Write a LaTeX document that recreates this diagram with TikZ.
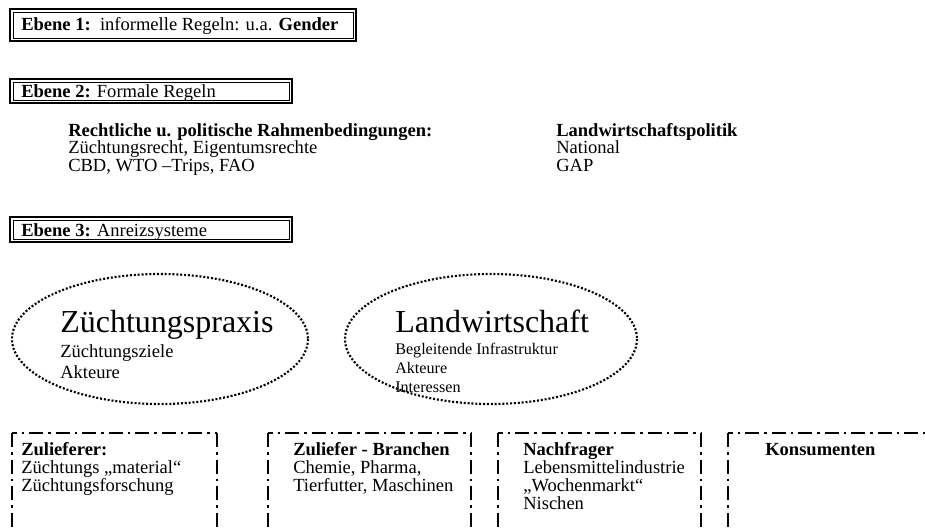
\documentclass[tikz,border=0pt]{standalone}
\usepackage{fontspec}
\setmainfont{Liberation Serif}
\begin{document}
\begin{tikzpicture}[x=0.75pt,y=-0.75pt,
  txt/.style={inner sep=0pt,anchor=base west,font=\fontsize{13.9}{16}\selectfont},
  bigtxt/.style={inner sep=0pt,anchor=base west,font=\fontsize{24}{28}\selectfont},
  smalltxt/.style={inner sep=0pt,anchor=base west,font=\fontsize{12.1}{14}\selectfont},
  outerln/.style={line width=1.1pt},
  innerln/.style={line width=0.6pt},
  dotline/.style={line width=1.6pt,dash pattern=on 1.5pt off 1.4pt},
  dashdot/.style={line width=1.4pt,dash pattern=on 10.5pt off 3.75pt on 1.9pt off 3.75pt},
  dashdottop/.style={line width=1.4pt,dash pattern=on 10.5pt off 3.75pt on 1.9pt off 3.75pt,dash phase=7pt}]
\useasboundingbox (0,0) rectangle (925,529);
\clip (0,0) rectangle (925,529);
% Ebene boxes (double border)
\draw[outerln] (10,9) rectangle (356,41);
\draw[innerln] (13,12) rectangle (353,38);
\node[txt] (e1) at (21,30) {\textbf{Ebene 1:}\ \ informelle Regeln: u.a. \textbf{Gender}};
\draw[outerln] (10,79) rectangle (292,103);
\draw[innerln] (13,82) rectangle (289,100);
\node[txt] (e2) at (21,97) {\textbf{Ebene 2:} Formale Regeln};
\draw[outerln] (10,217) rectangle (292,242);
\draw[innerln] (13,220) rectangle (289,239);
\node[txt] (e3) at (21,236) {\textbf{Ebene 3:} Anreizsysteme};
% Rahmen text
\node[txt] (r1) at (68,136) {\textbf{Rechtliche u. politische Rahmenbedingungen:}};
\node[txt] (r2) at (68,153.5) {Züchtungsrecht, Eigentumsrechte};
\node[txt] (r3) at (68,171) {CBD, WTO –Trips, FAO};
\node[txt] (l1) at (556,136) {\textbf{Landwirtschaftspolitik}};
\node[txt] (l2) at (556,153.5) {National};
\node[txt] (l3) at (556,171) {GAP};
% ellipses
\draw[dotline] (160,339) ellipse [x radius=148, y radius=65];
\draw[dotline] (491,339) ellipse [x radius=146, y radius=65];
\node[bigtxt] (zp) at (60,332) {Züchtungspraxis};
\node[txt] (zp1) at (60,357) {Züchtungsziele};
\node[txt] (zp2) at (60,378) {Akteure};
\node[bigtxt] (lw) at (395,332) {Landwirtschaft};
\node[smalltxt] (lw1) at (395,354) {Begleitende Infrastruktur};
\node[smalltxt] (lw2) at (395,373) {Akteure};
\node[smalltxt] (lw3) at (395,392) {Interessen};
% dash-dot boxes
\foreach \a/\b in {12/217, 268/471, 498/701}{
  \draw[dashdot] (\a,433) -- (\a,560);
  \draw[dashdottop] (\a,433) -- (\b,433);
  \draw[dashdot] (\b,433) -- (\b,560);
}
\draw[dashdot] (728,433) -- (728,560);
\draw[dashdottop] (728,433) -- (925,433);
\node[txt] (b1a) at (21,455) {\textbf{Zulieferer:}};
\node[txt] (b1b) at (21,473) {Züchtungs „material“};
\node[txt] (b1c) at (21,491) {Züchtungsforschung};
\node[txt] (b2a) at (293,455) {\textbf{Zuliefer - Branchen}};
\node[txt] (b2b) at (293,473) {Chemie, Pharma,};
\node[txt] (b2c) at (293,491) {Tierfutter, Maschinen};
\node[txt] (b3a) at (523,455) {\textbf{Nachfrager}};
\node[txt] (b3b) at (523,473) {Lebensmittelindustrie};
\node[txt] (b3c) at (523,491) {„Wochenmarkt“};
\node[txt] (b3d) at (523,509) {Nischen};
\node[txt] (b4a) at (765,455) {\textbf{Konsumenten}};
\end{tikzpicture}
\end{document}
